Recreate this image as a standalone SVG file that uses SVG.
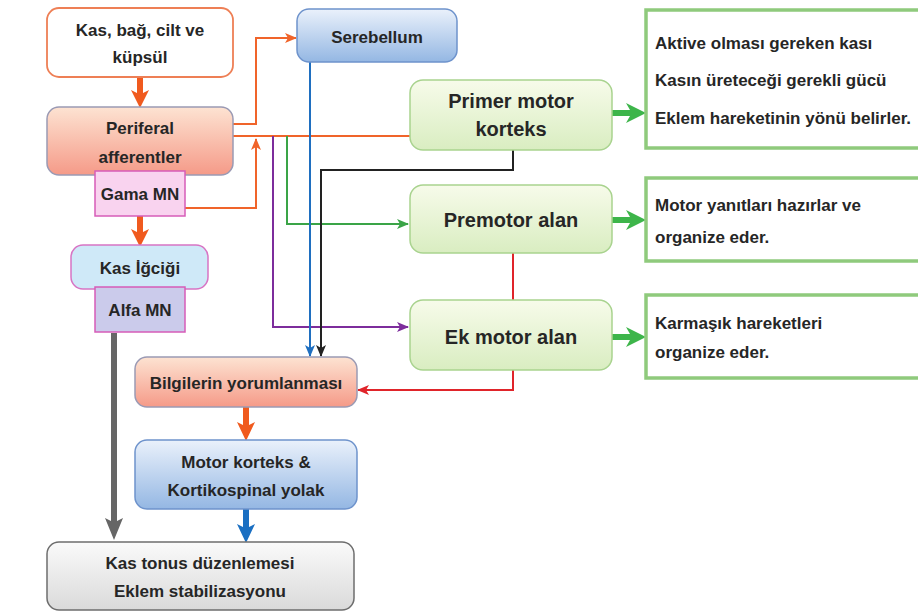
<svg xmlns="http://www.w3.org/2000/svg" width="918" height="616" viewBox="0 0 918 616">
<defs>
<linearGradient id="gPeach" x1="0" y1="0" x2="0" y2="1"><stop offset="0" stop-color="#fde3d2"/><stop offset="1" stop-color="#f59a88"/></linearGradient>
<linearGradient id="gBlue" x1="0" y1="0" x2="0" y2="1"><stop offset="0" stop-color="#eaf1fb"/><stop offset="1" stop-color="#94b7e3"/></linearGradient>
<linearGradient id="gGreen" x1="0" y1="0" x2="0" y2="1"><stop offset="0" stop-color="#f7fbea"/><stop offset="1" stop-color="#d9edc1"/></linearGradient>
<linearGradient id="gGray" x1="0" y1="0" x2="0" y2="1"><stop offset="0" stop-color="#fafafa"/><stop offset="1" stop-color="#dadada"/></linearGradient>
<marker id="aOr" markerUnits="userSpaceOnUse" markerWidth="12" markerHeight="12" viewBox="0 0 12 12" refX="11" refY="6" orient="auto"><path d="M0,1 L12,6 L0,11 L3,6 Z" fill="#f0642a"/></marker>
<marker id="aPu" markerUnits="userSpaceOnUse" markerWidth="12" markerHeight="12" viewBox="0 0 12 12" refX="11" refY="6" orient="auto"><path d="M0,1 L12,6 L0,11 L3,6 Z" fill="#7d2d9c"/></marker>
<marker id="aGr" markerUnits="userSpaceOnUse" markerWidth="12" markerHeight="12" viewBox="0 0 12 12" refX="11" refY="6" orient="auto"><path d="M0,1 L12,6 L0,11 L3,6 Z" fill="#3aa447"/></marker>
<marker id="aBl" markerUnits="userSpaceOnUse" markerWidth="12" markerHeight="12" viewBox="0 0 12 12" refX="11" refY="6" orient="auto"><path d="M0,1 L12,6 L0,11 L3,6 Z" fill="#1f6fc0"/></marker>
<marker id="aBk" markerUnits="userSpaceOnUse" markerWidth="12" markerHeight="12" viewBox="0 0 12 12" refX="11" refY="6" orient="auto"><path d="M0,1 L12,6 L0,11 L3,6 Z" fill="#222"/></marker>
<marker id="aRd" markerUnits="userSpaceOnUse" markerWidth="12" markerHeight="12" viewBox="0 0 12 12" refX="11" refY="6" orient="auto"><path d="M0,1 L12,6 L0,11 L3,6 Z" fill="#e0242a"/></marker>
</defs>
<style>
text{font-family:"Liberation Sans",Arial,sans-serif;font-weight:bold;font-size:17px;fill:#262626}
.c{text-anchor:middle}
.l{text-anchor:start}
.big{font-size:20px}
.ln{fill:none;stroke-width:2}
.or{stroke:#f0642a}.pu{stroke:#7d2d9c}.gr{stroke:#3aa447}.bl{stroke:#1f6fc0}.bk{stroke:#222}.rd{stroke:#e0242a}
.peach{fill:url(#gPeach);stroke:#9a9ab4;stroke-width:1.5}
.blue{fill:url(#gBlue);stroke:#6e93cc;stroke-width:1.5}
.green{fill:url(#gGreen);stroke:#a9d38f;stroke-width:1.5}
.gray{fill:url(#gGray);stroke:#6d6d6d;stroke-width:1.5}
.info{fill:#ffffff;stroke:#8fca7c;stroke-width:3.5}
.mn{stroke:#d65cb8;stroke-width:1.5}
</style>
<g id="connectors">
<path class="ln or" d="M233,124 H256 V38 H296" marker-end="url(#aOr)"/>
<path class="ln or" d="M233,136 H410"/>
<path class="ln or" d="M185,208 H256 V139" marker-end="url(#aOr)"/>
<path class="ln pu" d="M273,136 V327 H408" marker-end="url(#aPu)"/>
<path class="ln gr" d="M287,136 V224 H408" marker-end="url(#aGr)"/>
<path class="ln bl" d="M310,62 V356" marker-end="url(#aBl)"/>
<path class="ln bk" d="M513,150 V170 H321 V356" marker-end="url(#aBk)"/>
<path class="ln rd" d="M513,253 V300"/>
<path class="ln rd" d="M513,370 V390 H358" marker-end="url(#aRd)"/>
<path fill="#f05a1e" d="M137,77 H143 V93 L149,90 L140,108 L131,90 L137,93 Z"/>
<path fill="#f05a1e" d="M137,216 H143 V232 L149,229 L140,247 L131,229 L137,232 Z"/>
<path fill="#f05a1e" d="M243,407 H249 V425 L255,422 L246,441 L237,422 L243,425 Z"/>
<path fill="#1a6fc2" d="M243,509 H249 V527 L255,524 L246,543 L237,524 L243,527 Z"/>
<path fill="#666666" d="M111,333 H117 V521 L123,518 L114,540 L105,518 L111,521 Z"/>
<path fill="#3db54a" d="M612,110 H630 L626,103 L646,113 L626,123 L630,116 H612 Z"/>
<path fill="#3db54a" d="M612,217 H630 L626,210 L646,220 L626,230 L630,223 H612 Z"/>
<path fill="#3db54a" d="M612,334 H630 L626,327 L646,337 L626,347 L630,340 H612 Z"/>
</g>
<g id="kas-bag">
<rect x="47" y="8" width="186" height="69" rx="12" fill="#ffffff" stroke="#ee7f55" stroke-width="1.8"/>
<text class="c" x="140" y="36">Kas, bağ, cilt ve</text>
<text class="c" x="140" y="63">küpsül</text>
</g>
<g id="periferal">
<rect class="peach" x="47" y="107" width="186" height="68" rx="12"/>
<text class="c" x="140" y="134">Periferal</text>
<text class="c" x="140" y="163">afferentler</text>
</g>
<g id="gama">
<rect class="mn" x="95" y="171" width="90" height="45" fill="#f9d3ef"/>
<text class="c" x="140" y="200">Gama MN</text>
</g>
<g id="kas-igcigi">
<rect x="71" y="245" width="137" height="44" rx="12" fill="#cfe9f8" stroke="#d874c4" stroke-width="1.5"/>
<text class="c" x="140" y="274">Kas İğciği</text>
</g>
<g id="alfa">
<rect class="mn" x="95" y="287" width="90" height="45" fill="#cbcbeb"/>
<text class="c" x="140" y="316">Alfa MN</text>
</g>
<g id="serebellum">
<rect class="blue" x="297" y="9" width="160" height="53" rx="12"/>
<text class="c" x="377" y="43">Serebellum</text>
</g>
<g id="primer">
<rect class="green" x="410" y="80" width="202" height="70" rx="13"/>
<text class="c big" x="511" y="108">Primer motor</text>
<text class="c big" x="511" y="136">korteks</text>
</g>
<g id="premotor">
<rect class="green" x="410" y="185" width="202" height="68" rx="13"/>
<text class="c big" x="511" y="227">Premotor alan</text>
</g>
<g id="ek-motor">
<rect class="green" x="410" y="300" width="202" height="70" rx="13"/>
<text class="c big" x="511" y="344">Ek motor alan</text>
</g>
<g id="info-primer">
<rect class="info" x="646" y="10" width="280" height="138"/>
<text class="l" x="655" y="49">Aktive olması gereken kası</text>
<text class="l" x="655" y="86">Kasın üreteceği gerekli gücü</text>
<text class="l" x="655" y="124">Eklem hareketinin yönü belirler.</text>
</g>
<g id="info-premotor">
<rect class="info" x="646" y="178" width="280" height="83"/>
<text class="l" x="655" y="211">Motor yanıtları hazırlar ve</text>
<text class="l" x="655" y="243">organize eder.</text>
</g>
<g id="info-ek">
<rect class="info" x="646" y="295" width="280" height="83"/>
<text class="l" x="655" y="329">Karmaşık hareketleri</text>
<text class="l" x="655" y="358">organize eder.</text>
</g>
<g id="bilgilerin">
<rect class="peach" x="135" y="357" width="222" height="50" rx="12"/>
<text class="c" x="246" y="389">Bilgilerin yorumlanması</text>
</g>
<g id="motor-korteks">
<rect class="blue" x="135" y="440" width="222" height="69" rx="12"/>
<text class="c" x="246" y="468">Motor korteks &amp;</text>
<text class="c" x="246" y="496">Kortikospinal yolak</text>
</g>
<g id="kas-tonus">
<rect class="gray" x="47" y="542" width="307" height="68" rx="12"/>
<text class="c" x="200" y="569">Kas tonus düzenlemesi</text>
<text class="c" x="200" y="597">Eklem stabilizasyonu</text>
</g>
</svg>
